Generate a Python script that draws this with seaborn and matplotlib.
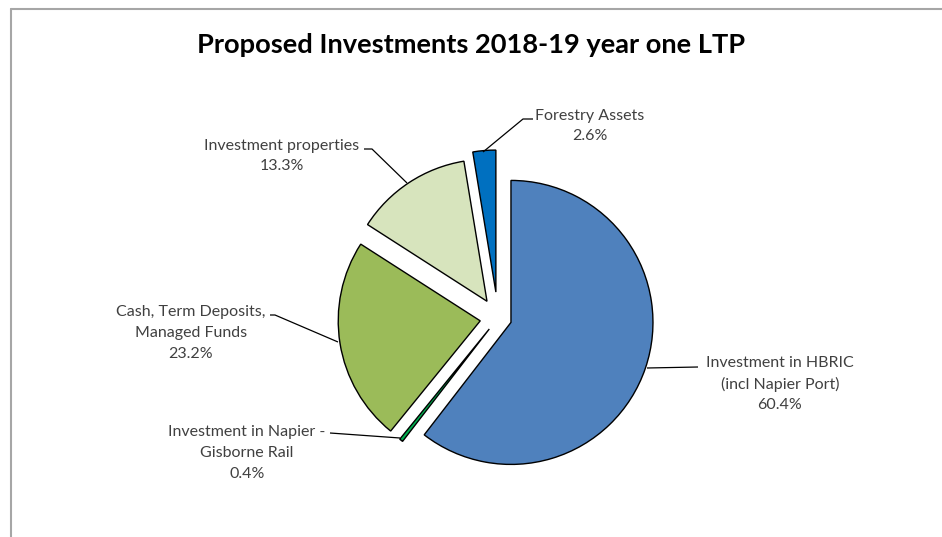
import matplotlib
matplotlib.use("Agg")
import matplotlib.pyplot as plt
from matplotlib.lines import Line2D
import seaborn as sns

# Portfolio shares, listed clockwise from 12 o'clock
categories = [
    "Investment in HBRIC\n(incl Napier Port)",
    "Investment in Napier -\nGisborne Rail",
    "Cash, Term Deposits,\nManaged Funds",
    "Investment properties",
    "Forestry Assets",
]
shares = [60.4, 0.4, 23.2, 13.3, 2.6]
slice_colors = ["#4F81BD", "#00B050", "#9BBB59", "#D7E4BD", "#0070C0"]

sns.set_theme(style="white")
plt.rcParams["font.family"] = ["Lato", "DejaVu Sans"]

W, H = 942, 537
fig = plt.figure(figsize=(W / 100, H / 100), dpi=100)
ax = fig.add_axes([0, 0, 1, 1])

palette = sns.color_palette(slice_colors)
explode = [13.7, 14, 18, 20, 26]
cx, cy, r = 498, H - 318, 142

ax.pie(
    shares,
    colors=palette,
    startangle=90,
    counterclock=False,
    center=(cx, cy),
    radius=r,
    explode=explode,
    wedgeprops=dict(edgecolor="black", linewidth=1.0),
)
ax.set_xlim(0, W)
ax.set_ylim(0, H)
ax.set_aspect("auto")
ax.axis("off")

# chart frame (top and left edges)
frame_col = "#A6A6A6"
fig.add_artist(Line2D([11 / W, 1], [1 - 9 / H, 1 - 9 / H], color=frame_col, lw=1.5,
                      transform=fig.transFigure))
fig.add_artist(Line2D([11 / W, 11 / W], [0, 1 - 9 / H], color=frame_col, lw=1.5,
                      transform=fig.transFigure))

ax.text(471, H - 45, "Proposed Investments 2018-19 year one LTP", ha="center",
        va="center", fontsize=19.6, fontweight="bold", color="black")

text_col = "#404040"
fs = 11.5


def label(x, y, txt):
    ax.text(x, H - y, txt, ha="center", va="center", fontsize=fs, color=text_col,
            linespacing=1.6)


def leader(pts):
    xs = [p[0] for p in pts]
    ys = [H - p[1] for p in pts]
    ax.plot(xs, ys, color="black", lw=0.9, solid_capstyle="butt")


pct = [f"{v:.1f}%" for v in shares]

label(780, 384, f"{categories[0]}\n{pct[0]}")
leader([(647, 368), (698, 367)])

label(247, 453, f"{categories[1]}\n{pct[1]}")
leader([(330, 433), (400, 438)])

label(191, 333, f"{categories[2]}\n{pct[2]}")
leader([(270, 315), (275, 315), (338, 342)])

label(282, 156, f"{categories[3]}\n{pct[3]}")
leader([(364, 149), (372, 149), (407, 183)])

label(590, 126, f"{categories[4]}\n{pct[4]}")
leader([(533, 119), (523, 119), (483, 152)])

fig.savefig("out.png", dpi=100, facecolor="white")
